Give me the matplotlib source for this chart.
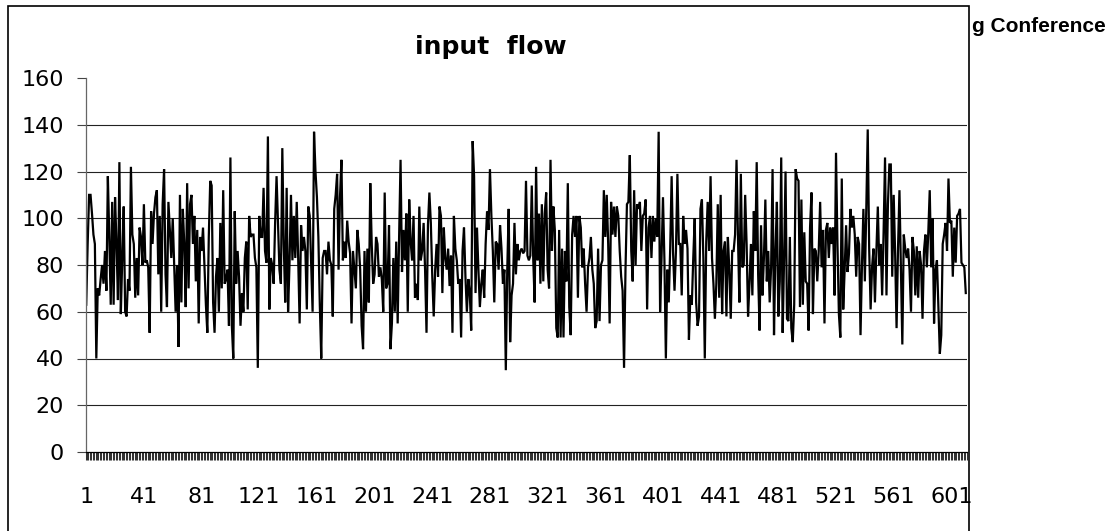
#!/usr/bin/env python3
# -*- coding: utf-8 -*-
"""Input flow line chart (Excel style), redrawn with matplotlib."""
import matplotlib

matplotlib.use("Agg")
import matplotlib.pyplot as plt
import numpy as np
from matplotlib.patches import Rectangle

# values, left to right, in chunks
flow_part1 = [63, 89, 110, 110, 102, 93, 89, 40, 70, 67, 74, 80, 72, 86, 69, 118, 92, 63, 107, 63,
              109, 89, 65, 124, 59, 83, 105, 60, 58, 74, 69, 122, 93, 89, 66, 83, 67, 96, 92, 80,
              106, 81, 82, 79, 51, 103, 89, 102, 109, 112, 76, 101, 60, 106, 121, 76, 62, 107, 95, 83,
              100, 80, 60, 80]
flow_part2 = [45, 110, 64, 104, 89, 62, 115, 70, 106, 110, 89, 101, 73, 95, 55, 92, 86, 96, 79, 63,
              51, 92, 116, 114, 64, 51, 75, 83, 60, 98, 70, 112, 72, 74, 78, 54, 126, 54, 40, 103,
              72, 86, 75, 54, 68, 60, 83, 90, 61, 101, 92, 93, 93, 83, 79, 36, 101, 92, 92, 113,
              86, 81]
flow_part3 = [135, 61, 83, 80, 72, 98, 118, 98, 78, 72, 130, 89, 64, 113, 60, 81, 110, 82, 101, 83,
              107, 83, 55, 97, 86, 92, 86, 61, 105, 101, 80, 60, 137, 120, 109, 92, 63, 40, 83, 86,
              86, 76, 90, 82, 80, 58, 104, 110, 119, 78, 109, 125, 82, 90, 83, 99, 90, 85, 55, 86,
              78, 70, 95, 89, 78, 54, 44]
flow_part4 = [86, 60, 87, 64, 115, 89, 72, 76, 92, 89, 75, 79, 74, 60, 111, 70, 72, 97, 44, 55,
              83, 60, 90, 55, 92, 125, 77, 95, 82, 102, 60, 108, 90, 82, 101, 66, 72, 65, 105, 82,
              86, 98, 78, 51, 97, 111, 98, 75, 58, 78, 89, 75, 105, 101, 68, 96, 83, 78, 87, 71,
              84, 51, 101, 87, 82, 72]
flow_part5 = [74, 49, 86, 96, 75, 60, 74, 68, 52, 133, 118, 68, 96, 78, 62, 72, 78, 66, 89, 103,
              95, 121, 101, 86, 64, 90, 89, 78, 97, 87, 72, 78, 35, 78, 104, 47, 67, 72, 98, 76,
              89, 82, 86, 87, 85, 86, 116, 84, 82, 84, 114, 83, 64, 122, 82, 102, 72, 106, 73, 102,
              111, 78, 70, 125, 86, 105]
flow_part6 = [95, 53, 49, 95, 49, 87, 49, 86, 73, 115, 62, 50, 93, 101, 92, 101, 66, 101, 96, 79,
              87, 72, 60, 79, 83, 92, 78, 72, 53, 56, 87, 56, 80, 82, 112, 92, 110, 89, 55, 107,
              93, 105, 92, 105, 101, 86, 75, 69, 36, 78, 106, 107, 127, 86, 73, 112, 80, 106, 104, 107,
              86, 101, 102, 108, 61, 96]
flow_part7 = [101, 83, 101, 90, 100, 92, 137, 60, 83, 109, 82, 40, 78, 64, 87, 118, 85, 69, 86, 119,
              89, 89, 67, 101, 89, 95, 87, 48, 67, 63, 83, 100, 64, 54, 58, 104, 108, 83, 40, 90,
              107, 86, 118, 83, 72, 57, 72, 106, 66, 110, 59, 86, 90, 58, 92, 78, 57, 86, 86, 93,
              125, 92, 64, 119, 79]
flow_part8 = [80, 110, 89, 58, 72, 89, 67, 103, 86, 124, 76, 52, 97, 67, 83, 108, 73, 86, 64, 79,
              121, 50, 86, 107, 58, 73, 126, 51, 83, 120, 57, 56, 92, 53, 47, 63, 121, 117, 116, 62,
              108, 63, 94, 73, 72, 52, 96, 111, 59, 87, 86, 73, 86, 107, 79, 95, 55, 95, 98, 83,
              96, 89, 96, 67, 128, 89]
flow_part9 = [59, 49, 117, 61, 78, 97, 77, 85, 104, 96, 101, 93, 75, 92, 89, 50, 80, 104, 73, 104,
              138, 87, 61, 79, 87, 64, 86, 105, 80, 89, 67, 94, 126, 67, 106, 123, 123, 75, 110, 85,
              53, 87, 112, 78, 46, 93, 87, 83, 87, 78, 60, 92, 86, 67, 88, 66, 86, 80, 57, 86,
              93, 79, 94, 112, 79, 100, 55, 78, 82, 62, 42, 50, 89, 93, 98, 86, 117, 98, 99, 75,
              96, 81, 101, 102, 104, 81, 80, 79, 68]

x_labels = [1, 41, 81, 121, 161, 201, 241, 281, 321, 361, 401, 441, 481, 521, 561, 601]
y_ticks = [0, 20, 40, 60, 80, 100, 120, 140, 160]
title = "input  flow"
side_text = "g Conference"

W, H = 1120, 531


def main():
    flow = np.concatenate([flow_part1, flow_part2, flow_part3, flow_part4, flow_part5,
                           flow_part6, flow_part7, flow_part8, flow_part9])
    n = len(flow)
    idx = np.arange(1, n + 1)

    fig = plt.figure(figsize=(W / 100, H / 100), dpi=100)
    fig.patch.set_facecolor("white")

    # chart frame (bottom edge is cut off in the original)
    fig.patches.append(Rectangle((8 / W, -0.02), (969 - 8) / W, (531 - 5.5) / H + 0.02,
                                 transform=fig.transFigure, fill=False, ec="black", lw=1.2,
                                 clip_on=False))

    ax = fig.add_axes([85.5 / W, (H - 452) / H, 881 / W, 374 / H])
    ax.plot(idx, flow, color="black", lw=1.6, solid_joinstyle="miter")

    ax.set_xlim(0.5, n + 0.5)
    ax.set_ylim(0, 160)
    for v in y_ticks[1:-1]:
        ax.axhline(v, color="#222222", lw=0.8, zorder=0)

    for side in ["top", "right"]:
        ax.spines[side].set_visible(False)
    ax.spines["left"].set_color("#666666")
    ax.spines["left"].set_linewidth(0.9)
    ax.spines["bottom"].set_color("black")
    ax.spines["bottom"].set_linewidth(0.9)

    ax.set_yticks(y_ticks)
    ax.set_yticklabels([str(v) for v in y_ticks], fontsize=16, family="DejaVu Sans")
    ax.tick_params(axis="y", length=6.5, width=0.8, color="#444444", pad=9)

    # one tick per category -> dense band under the axis
    ax.set_xticks(x_labels)
    ax.set_xticklabels([str(v) for v in x_labels], fontsize=16, family="DejaVu Sans")
    ax.set_xticks(np.arange(0.5, n + 1.0, 1.0), minor=True)
    ax.tick_params(axis="x", which="major", length=0, pad=25)
    ax.tick_params(axis="x", which="minor", length=6, width=0.75, color="#333333")
    for tl in ax.xaxis.get_minorticklines():
        tl.set_snap(False)

    fig.text(491 / W, (H - 47) / H, title, ha="center", va="center",
             fontsize=18, fontweight="bold", family="DejaVu Sans")
    fig.text(972 / W, (H - 26) / H, side_text, ha="left", va="center", fontsize=15,
             fontweight="bold", family=["Liberation Sans Narrow", "Liberation Sans"])

    fig.savefig("out.png", dpi=100, facecolor="white")
    plt.close(fig)


if __name__ == "__main__":
    main()
